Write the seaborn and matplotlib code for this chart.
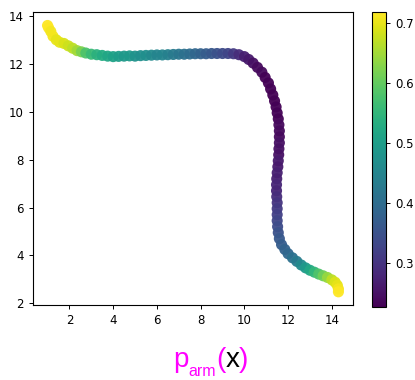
import matplotlib
matplotlib.use("Agg")
import matplotlib.pyplot as plt
import seaborn as sns
import pandas as pd
from matplotlib.colors import Normalize
from matplotlib.cm import ScalarMappable

# trail points: position and colour value
x_pos = [1.0, 1.05, 1.15, 1.25, 1.4, 1.55, 1.75, 1.95, 2.15, 2.35, 2.55, 2.75, 3.0, 3.25,
         3.5, 3.75, 4.0, 4.25, 4.5, 4.75, 5.0, 5.25, 5.5, 5.75, 6.0, 6.25, 6.5, 6.75, 7.0,
         7.25, 7.5, 7.75, 8.0, 8.25, 8.5, 8.75, 9.0, 9.25, 9.5, 9.75, 10.0, 10.2, 10.4, 10.6,
         10.8, 10.95, 11.1, 11.2, 11.3, 11.38, 11.45, 11.5, 11.55, 11.58, 11.6, 11.6, 11.6,
         11.58, 11.57, 11.55, 11.53, 11.5, 11.48, 11.47, 11.47, 11.48, 11.5, 11.5, 11.5, 11.5,
         11.52, 11.55, 11.6, 11.7, 11.85, 12.0, 12.2, 12.4, 12.6, 12.8, 13.0, 13.2, 13.4, 13.6,
         13.8, 14.0, 14.15, 14.25, 14.3, 14.3]
y_pos = [13.6, 13.5, 13.35, 13.15, 13.0, 12.9, 12.85, 12.75, 12.65, 12.55, 12.5, 12.45, 12.4,
         12.38, 12.35, 12.32, 12.3, 12.31, 12.32, 12.33, 12.32, 12.34, 12.35, 12.36, 12.37,
         12.37, 12.38, 12.39, 12.4, 12.4, 12.41, 12.42, 12.42, 12.42, 12.43, 12.43, 12.43,
         12.43, 12.42, 12.38, 12.3, 12.18, 12.03, 11.85, 11.65, 11.43, 11.2, 10.95, 10.7,
         10.45, 10.2, 9.95, 9.7, 9.45, 9.2, 8.95, 8.7, 8.45, 8.2, 7.95, 7.7, 7.45, 7.2, 6.95,
         6.7, 6.45, 6.2, 5.95, 5.7, 5.45, 5.2, 4.95, 4.7, 4.45, 4.25, 4.07, 3.9, 3.75, 3.6,
         3.48, 3.38, 3.3, 3.22, 3.15, 3.08, 2.98, 2.88, 2.75, 2.6, 2.48]
p_arm = [0.72, 0.72, 0.71, 0.71, 0.70, 0.70, 0.69, 0.68, 0.67, 0.65, 0.62, 0.58, 0.56, 0.54,
         0.53, 0.52, 0.51, 0.50, 0.49, 0.49, 0.48, 0.47, 0.47, 0.46, 0.45, 0.45, 0.44, 0.43,
         0.42, 0.41, 0.40, 0.39, 0.38, 0.37, 0.36, 0.35, 0.34, 0.33, 0.31, 0.29, 0.27, 0.26,
         0.25, 0.24, 0.24, 0.23, 0.23, 0.23, 0.22, 0.22, 0.23, 0.23, 0.23, 0.24, 0.24, 0.24,
         0.25, 0.25, 0.25, 0.26, 0.26, 0.27, 0.27, 0.28, 0.28, 0.29, 0.30, 0.31, 0.32, 0.33,
         0.34, 0.35, 0.36, 0.37, 0.38, 0.39, 0.41, 0.43, 0.46, 0.49, 0.52, 0.55, 0.58, 0.61,
         0.64, 0.67, 0.69, 0.70, 0.71, 0.72]

vmin, vmax = 0.227, 0.718
cbar_ticks = [0.3, 0.4, 0.5, 0.6, 0.7]

df = pd.DataFrame({"x": x_pos, "y": y_pos, "p": p_arm})

fig = plt.figure(figsize=(4.15, 3.8), dpi=100)
ax = fig.add_axes([0.0795, 0.197, 0.771, 0.771])
cax = fig.add_axes([0.896, 0.192, 0.034, 0.776])

sns.scatterplot(data=df, x="x", y="y", hue="p", palette="viridis", hue_norm=(vmin, vmax),
                s=64, linewidth=0, alpha=0.95, legend=False, ax=ax)
ax.set_xlabel("")
ax.set_ylabel("")
ax.set_xticks([2, 4, 6, 8, 10, 12, 14])
ax.set_yticks([2, 4, 6, 8, 10, 12, 14])
ax.tick_params(labelsize=8.5, length=3, width=0.7)
for sp in ax.spines.values():
    sp.set_linewidth(0.8)

cb = fig.colorbar(ScalarMappable(norm=Normalize(vmin, vmax), cmap="viridis"), cax=cax)
cb.set_ticks(cbar_ticks)
cb.ax.tick_params(labelsize=8.5, length=3, width=0.7)
cb.outline.set_linewidth(0.8)

# bottom label p_arm(x), pieces placed one after another
pieces = [("p", "magenta", 20, 0), ("arm", "magenta", 11.5, -9), ("(", "magenta", 20, 0),
          ("x", "black", 20, 0), (")", "magenta", 20, 0)]
fig.canvas.draw()
renderer = fig.canvas.get_renderer()
xpix = 173
base = 13
for txt, col, fs, dy in pieces:
    t = fig.text(xpix / 415, (base + dy) / 380, txt, color=col, fontsize=fs,
                 family="Liberation Sans", ha="left", va="baseline")
    xpix = t.get_window_extent(renderer).x1

fig.savefig("out.png", dpi=100)
